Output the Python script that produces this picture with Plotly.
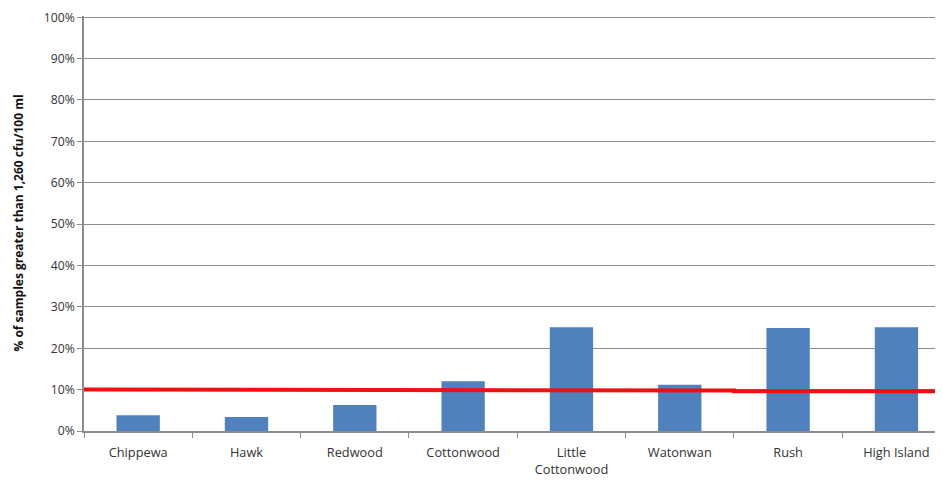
import plotly.graph_objects as go

categories = ["Chippewa", "Hawk", "Redwood", "Cottonwood", "Little<br>Cottonwood",
              "Watonwan", "Rush", "High Island"]
pct_exceed = [3.8, 3.4, 6.3, 12.0, 25.1, 11.2, 24.9, 25.1]

# red threshold line (drawn in the original with slight steps)
threshold_x = [-0.5, 1.5, 1.5, 5.5, 5.5, 7.5]
threshold_y = [10.0, 10.0, 9.8, 9.8, 9.6, 9.6]

y_ticks = list(range(0, 101, 10))
y_tick_labels = [f"{v}%" for v in y_ticks]
y_title = "% of samples greater than 1,260 cfu/100 ml"

font_family = "Open Sans, Lato, sans-serif"
grid_col = "#8c8c8c"
x_range = [-0.5, 7.43]

# page body adds ~8px offset; compensate so plot sits where the reference has it
W, H = 935, 472
L, T, B = 76, 8, 49
plot_w = W - L

fig = go.Figure()
fig.add_trace(go.Bar(x=categories, y=pct_exceed, marker=dict(color="#4f81bd", line=dict(width=0)),
                     showlegend=False, hoverinfo="skip"))
fig.add_trace(go.Scatter(x=threshold_x, y=threshold_y, mode="lines", xaxis="x2",
                         line=dict(color="#f01010", width=4), showlegend=False, hoverinfo="skip"))

fig.update_layout(
    width=W, height=H,
    margin=dict(l=L, r=0, t=T, b=B, autoexpand=False),
    paper_bgcolor="white", plot_bgcolor="white",
    bargap=0.6,
    font=dict(family=font_family, size=12.8, color="#333333"),
    xaxis=dict(type="category", range=x_range, showline=True, linecolor=grid_col, linewidth=1.5,
               ticks="outside", tickson="boundaries", ticklen=5, tickcolor=grid_col,
               ticklabelstandoff=9,
               showgrid=False, automargin=False, tickfont=dict(size=12.8, color="#333333")),
    xaxis2=dict(overlaying="x", range=x_range, visible=False),
    yaxis=dict(range=[0, 100.3], tickvals=y_ticks, ticktext=y_tick_labels,
               showline=True, linecolor=grid_col, linewidth=1.5,
               ticks="outside", ticklen=5, tickcolor=grid_col, ticklabeloverflow="allow",
               showgrid=True, gridcolor=grid_col, gridwidth=1.2, zeroline=False,
               automargin=False, tickfont=dict(size=12.2, color="#333333")),
    annotations=[dict(text=f"<b>{y_title}</b>", xref="paper", yref="paper",
                      x=-(L - 10) / plot_w, y=0.5, xanchor="center", yanchor="middle",
                      textangle=-90, showarrow=False,
                      font=dict(size=12, color="#111111"))],
)

fig.write_html("out.html")
